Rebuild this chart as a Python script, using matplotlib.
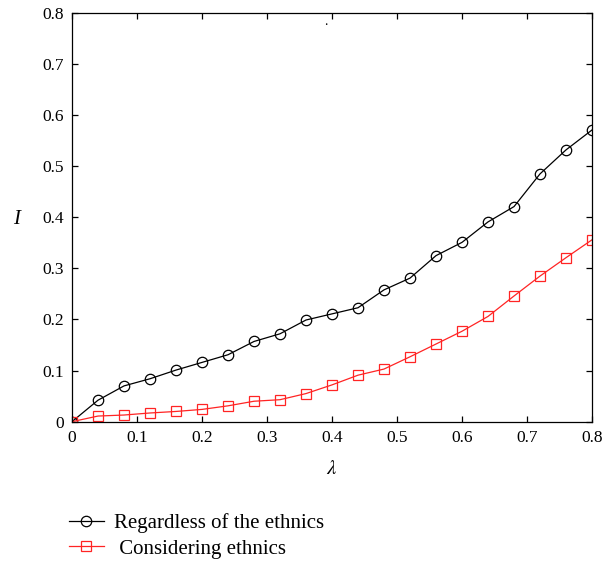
import numpy as np
import matplotlib
matplotlib.use("Agg")
import matplotlib.pyplot as plt
from matplotlib.ticker import FuncFormatter

# values
lam = [0.00, 0.04, 0.08, 0.12, 0.16, 0.20, 0.24, 0.28, 0.32, 0.36, 0.40,
       0.44, 0.48, 0.52, 0.56, 0.60, 0.64, 0.68, 0.72, 0.76, 0.80]
regardless = [0.000, 0.042, 0.070, 0.084, 0.101, 0.116, 0.131, 0.157, 0.172, 0.199, 0.211,
              0.223, 0.258, 0.281, 0.325, 0.351, 0.391, 0.421, 0.485, 0.532, 0.571]
considering = [0.000, 0.011, 0.013, 0.017, 0.020, 0.024, 0.031, 0.040, 0.043, 0.055, 0.072,
               0.091, 0.103, 0.127, 0.152, 0.177, 0.206, 0.246, 0.285, 0.321, 0.356]
series_names = ["Regardless of the ethnics", " Considering ethnics"]
ticks = [0, 0.1, 0.2, 0.3, 0.4, 0.5, 0.6, 0.7, 0.8]

plt.rcParams['font.family'] = ['Liberation Serif', 'DejaVu Serif']
plt.rcParams['mathtext.fontset'] = 'stix'

fig = plt.figure(figsize=(6.02, 5.62), dpi=100)
ax = fig.add_axes([0.1196, 0.2497, 0.8638, 0.7272])

l1, = ax.plot(lam, regardless, color='black', lw=0.9, marker='o', ms=7.5,
              mfc='none', mec='black', mew=0.9)
l2, = ax.plot(lam, considering, color='#ff2424', lw=0.9, marker='s', ms=7,
              mfc='none', mec='#ff2424', mew=0.9)

ax.set_xlim(0, 0.8)
ax.set_ylim(0, 0.8)
ax.set_xticks(ticks)
ax.set_yticks(ticks)
fmt = FuncFormatter(lambda v, p: '0' if abs(v) < 1e-9 else '%g' % v)
ax.xaxis.set_major_formatter(fmt)
ax.yaxis.set_major_formatter(fmt)
ax.tick_params(direction='in', length=4, width=0.9, top=True, right=True,
               labelsize=12.5, pad=6)
for s in ax.spines.values():
    s.set_linewidth(0.9)

ax.set_xlabel(r'$\lambda$', fontsize=15, labelpad=10)
ax.set_ylabel('I', fontsize=15, style='italic', rotation=0, va='center')
ax.yaxis.set_label_coords(-0.107, 0.495)

# stray dot that sits near the top of the original plot
ax.text(0.39, 0.783, '.', fontsize=10, ha='center', va='center')

fig.legend([l1, l2], series_names, loc='upper left', bbox_to_anchor=(0.1, 0.102),
           frameon=False, fontsize=15, handlelength=1.7, handletextpad=0.5,
           labelspacing=0.3, borderaxespad=0)

fig.savefig('out.png', dpi=100)
